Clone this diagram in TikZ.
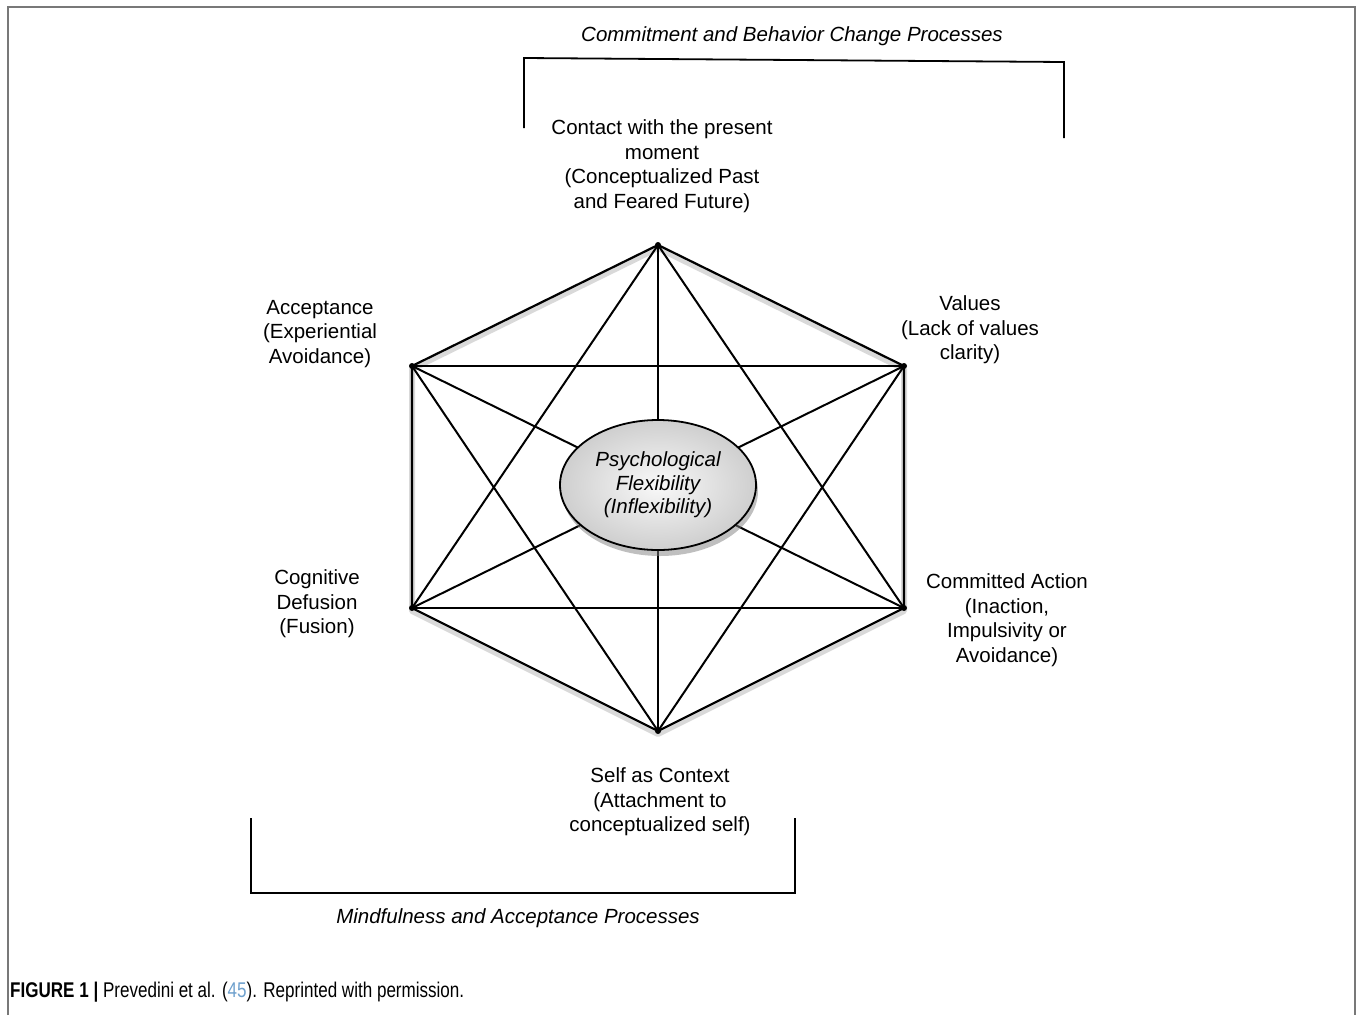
\documentclass[tikz,border=0pt]{standalone}
\usepackage{fontspec}
\setmainfont{Liberation Sans}
\newfontfamily\capfont[FakeStretch=0.8]{Liberation Sans}
\usetikzlibrary{shapes.geometric,shadows}
\definecolor{framegray}{RGB}{120,120,120}
\definecolor{citeblue}{RGB}{110,160,205}
\tikzset{
  proc/.style={align=center,font=\fontsize{20.5}{24.5}\selectfont},
  heading/.style={font=\fontsize{20.5}{24.5}\selectfont\itshape},
  rim/.style={line width=2.2pt,line join=round},
  chord/.style={line width=2pt},
  bracket/.style={line width=1.8pt},
}
\begin{document}
\begin{tikzpicture}[x=1pt,y=-1pt]
  \useasboundingbox (0,0) rectangle (1360,1015);
  \draw[framegray,line width=2pt] (8,1015) -- (8,7) -- (1355,7) -- (1355,1015);

  \coordinate (top) at (658,245);\coordinate (ur) at (904,366);\coordinate (lr) at (904,608);
  \coordinate (bot) at (658,731);\coordinate (ll) at (412,608);\coordinate (ul) at (412,366);

  \begin{scope}[transform canvas={yshift=-3pt}]
    \draw[black!15,line width=6pt,line join=round] (top) -- (ur) -- (lr) -- (bot) -- (ll) -- (ul) -- cycle;
  \end{scope}
  \draw[rim] (top) -- (ur) -- (lr) -- (bot) -- (ll) -- (ul) -- cycle;
  \draw[chord] (top) -- (ll);\draw[chord] (top) -- (lr);\draw[chord] (ul) -- (ur);
  \draw[chord] (ll) -- (lr);\draw[chord] (ul) -- (bot);\draw[chord] (ur) -- (bot);
  \draw[chord] (top) -- (bot);\draw[chord] (ul) -- (lr);\draw[chord] (ur) -- (ll);
  \fill (top) circle (3);\fill (ur) circle (3);\fill (lr) circle (3);
  \fill (bot) circle (3);\fill (ll) circle (3);\fill (ul) circle (3);

  \node[ellipse,draw,line width=1.8pt,minimum width=196pt,minimum height=130pt,
    inner color=gray!5,outer color=gray!38,
    drop shadow={shadow xshift=2pt,shadow yshift=-6pt,opacity=0.5},
    align=center,font=\fontsize{20.5}{23.5}\selectfont\itshape] (flex) at (658,485)
    {Psychological\\Flexibility\\(Inflexibility)};

  \node[proc] (contact) at (662,166) {Contact with the present\\moment\\(Conceptualized Past\\and Feared Future)};
  \node[proc] (acceptance) at (320,334) {Acceptance\\(Experiential\\Avoidance)};
  \node[proc] (values) at (970,330) {Values\\(Lack of values\\clarity)};
  \node[proc] (defusion) at (317,604) {Cognitive\\Defusion\\(Fusion)};
  \node[proc] (committed) at (1007,620) {Committed Action\\(Inaction,\\Impulsivity or\\Avoidance)};
  \node[proc] (selfctx) at (660,802) {Self as Context\\(Attachment to\\conceptualized self)};

  \node[heading] (commitment) at (792,36) {Commitment and Behavior Change Processes};
  \draw[bracket] (524,128) -- (524,58) -- (1064,62) -- (1064,138);
  \node[heading] (mindfulness) at (518,918) {Mindfulness and Acceptance Processes};
  \draw[bracket] (251,818) -- (251,893) -- (795,893) -- (795,818);

  \node[anchor=west,inner sep=0pt,font=\capfont\fontsize{21.3}{24}\selectfont] (caption) at (10,992)
    {\textbf{FIGURE 1 |} Prevedini et al. (\textcolor{citeblue}{45}). Reprinted with permission.};
\end{tikzpicture}
\end{document}
